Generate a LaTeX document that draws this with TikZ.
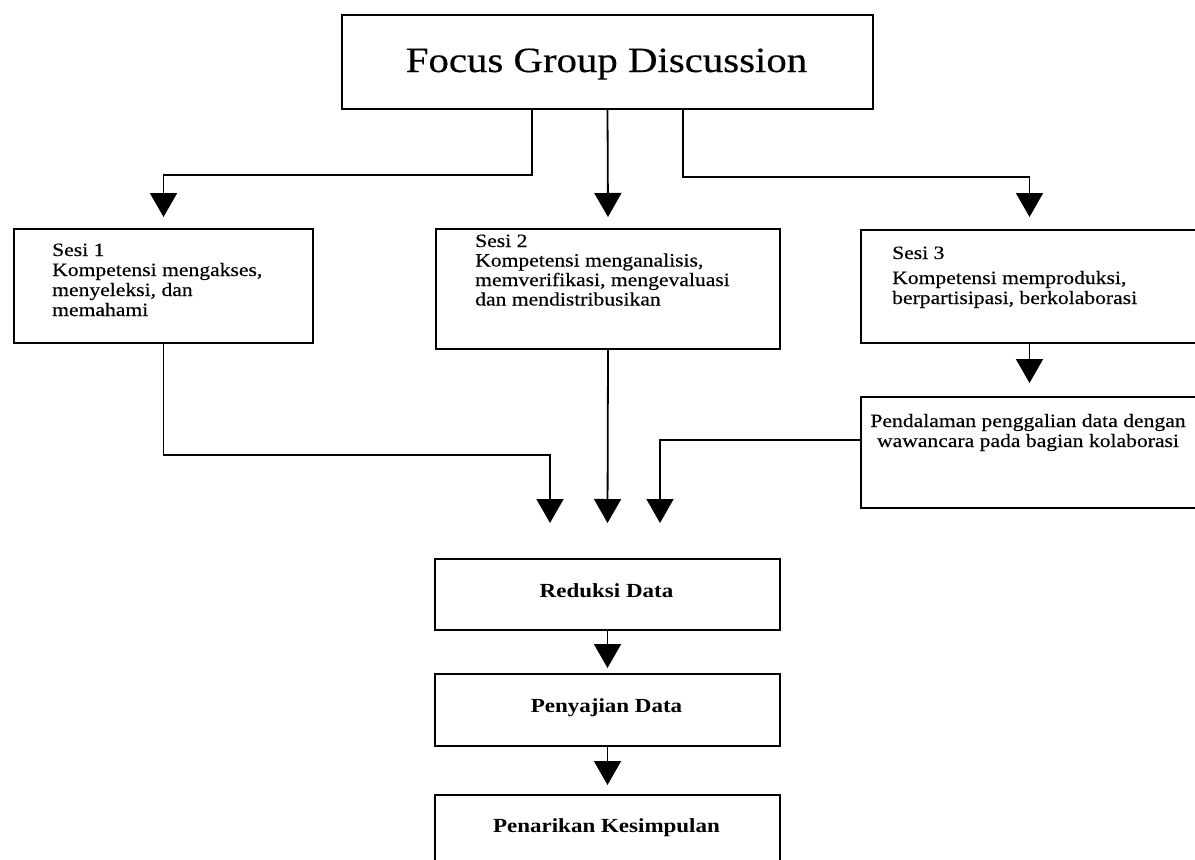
\documentclass[tikz,border=0pt]{standalone}
\usepackage{fontspec}
\setmainfont{Liberation Serif}[FakeStretch=1.15, UprightFeatures={FakeBold=0.35}]
\usetikzlibrary{arrows.meta,calc}
\newcommand\fgdf{\fontsize{35.5}{42}\selectfont}
\newcommand\sesif{\fontsize{18.8}{20}\selectfont}
\newcommand\sesiftwo{\fontsize{18.8}{19.5}\selectfont}
\newcommand\stepf{\fontsize{20}{23}\selectfont\bfseries}
\begin{document}
\begin{tikzpicture}[x=1pt,y=-1pt,
  box/.style={draw, line width=2pt, inner sep=0pt, anchor=north west},
  txt/.style={inner sep=0pt},
  conn/.style={line width=1.8pt},
  arr/.style={conn, -{Triangle[width=27pt,length=24pt]}}]
\useasboundingbox (0,0) rectangle (1195,860);
\fill[white] (0,0) rectangle (1195,860);
% boxes
\node[box, minimum width=531pt, minimum height=94pt] (fgd) at (341,14) {};
\node[box, minimum width=299pt, minimum height=114pt] (s1) at (13,228) {};
\node[box, minimum width=344pt, minimum height=120pt] (s2) at (435,228) {};
\node[box, minimum width=337pt, minimum height=113pt] (s3) at (860,229) {};
\node[box, minimum width=337pt, minimum height=111pt] (pd) at (860,396) {};
\node[box, minimum width=345pt, minimum height=71pt] (rd) at (434,558) {};
\node[box, minimum width=345pt, minimum height=72pt] (pj) at (434,673) {};
\node[box, minimum width=345pt, minimum height=72pt] (pk) at (434,794) {};
% texts
\node[txt, anchor=base, font=\fgdf] (fgdt) at (606.5,72) {Focus Group Discussion};
\node[txt, anchor=base west, font=\sesif] (s1t) at (52,256)
  {\begin{tabular}[t]{@{}l@{}}Sesi 1\\Kompetensi mengakses,\\menyeleksi, dan\\memahami\end{tabular}};
\node[txt, anchor=base west, font=\sesiftwo] (s2t) at (475,247)
  {\begin{tabular}[t]{@{}l@{}}Sesi 2\\Kompetensi menganalisis,\\memverifikasi, mengevaluasi\\dan mendistribusikan\end{tabular}};
\node[txt, anchor=base west, font=\sesif] (s3t) at (892,259)
  {\begin{tabular}[t]{@{}l@{}}Sesi 3\\[5pt]Kompetensi memproduksi,\\berpartisipasi, berkolaborasi\end{tabular}};
\node[txt, anchor=base, font=\sesif] (pdt) at (1028,427)
  {\begin{tabular}[t]{@{}c@{}}Pendalaman penggalian data dengan\\wawancara pada bagian kolaborasi\end{tabular}};
\node[txt, anchor=base, font=\stepf] (rdt) at (606.5,597) {Reduksi Data};
\node[txt, anchor=base, font=\stepf] (pjt) at (606.5,712) {Penyajian Data};
\node[txt, anchor=base, font=\stepf] (pkt) at (606.5,832) {Penarikan Kesimpulan};
% connectors
\draw[arr] ($(fgd.south west)+(191,0)$) -- ++(0,65) -| ($(s1.north)+(0,-11)$);
\draw[arr] (fgd.south) -- ($(s2.north)+(0,-11)$);
\draw[arr] ($(fgd.south west)+(342,0)$) -- ++(0,67) -| ($(s3.north)+(0,-12)$);
\draw[arr] (s3.south) -- ($(pd.north)+(0,-13)$);
\draw[arr] (s1.south) -- ++(0,111) -| ($(rd.north west)+(116,-35)$);
\draw[arr] (s2.south) -- ($(rd.north)+(0,-35)$);
\draw[arr] ($(pd.west)+(0,-12.5)$) -| ($(rd.north west)+(226,-35)$);
\draw[arr] (rd.south) -- ($(pj.north)+(0,-5)$);
\draw[arr] (pj.south) -- ($(pk.north)+(0,-9)$);
\end{tikzpicture}
\end{document}
